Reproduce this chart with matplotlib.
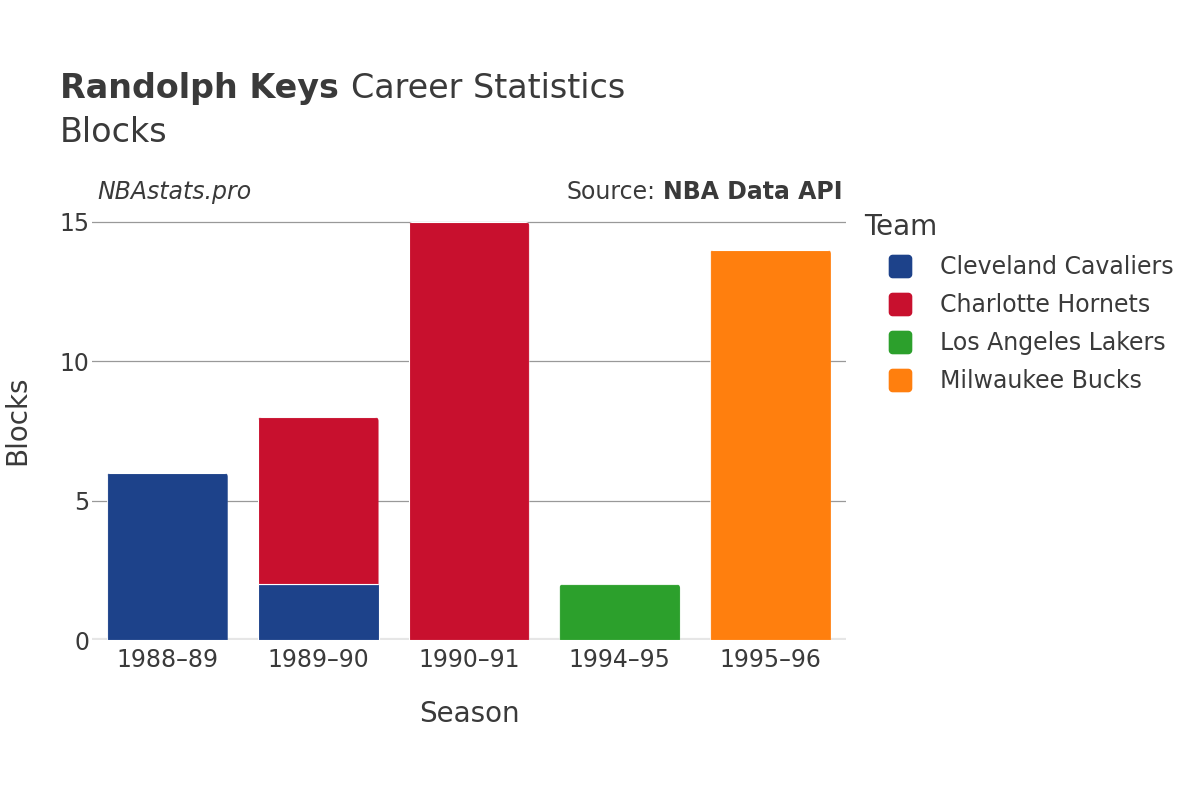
import matplotlib.pyplot as plt
from matplotlib.lines import Line2D
from matplotlib.path import Path
from matplotlib.patches import FancyBboxPatch
import numpy as np

# data
seasons = ['1988\u201389', '1989\u201390', '1990\u201391', '1994\u201395', '1995\u201396']
teams = ['Cleveland Cavaliers', 'Charlotte Hornets', 'Los Angeles Lakers', 'Milwaukee Bucks']
team_colors = ['#1d428a', '#c8102e', '#2ca02c', '#ff7f0e']
blocks = {
    'Cleveland Cavaliers': [6, 2, 0, 0, 0],
    'Charlotte Hornets': [0, 6, 15, 0, 0],
    'Los Angeles Lakers': [0, 0, 0, 2, 0],
    'Milwaukee Bucks': [0, 0, 0, 0, 14],
}

ctxt = '#3a3a3a'


def rounded_square(r=0.3, n=8):
    # unit square marker with rounded corners
    pts = []
    for cx, cy, a0 in [(1 - r, 1 - r, 0), (-1 + r, 1 - r, 90),
                       (-1 + r, -1 + r, 180), (1 - r, -1 + r, 270)]:
        for a in np.linspace(a0, a0 + 90, n):
            t = np.radians(a)
            pts.append((cx + r * np.cos(t), cy + r * np.sin(t)))
    pts.append(pts[0])
    return Path(pts, closed=True)


fig = plt.figure(figsize=(12, 8), dpi=100)
ax = fig.add_axes([0.0767, 0.2, 0.6283, 0.533])
ax.set_xlim(-0.5, len(seasons) - 0.5)
ax.set_ylim(0, 15.3)

x = np.arange(len(seasons))
totals = np.sum([blocks[t] for t in teams], axis=0)
bottom = np.zeros(len(seasons))
for team, col in zip(teams, team_colors):
    vals = np.array(blocks[team], dtype=float)
    mask = vals > 0
    bars = ax.bar(x[mask], vals[mask], 0.8, bottom=bottom[mask], color=col,
                  edgecolor='white', linewidth=0.8, zorder=3)
    # round the top corners of the topmost segment
    for rect, xi in zip(bars, x[mask]):
        y0, h = rect.get_y(), rect.get_height()
        if np.isclose(y0 + h, totals[xi]):
            clip = FancyBboxPatch((rect.get_x(), y0 - 1), rect.get_width(), h + 1,
                                  boxstyle='round,pad=0,rounding_size=0.027',
                                  mutation_aspect=5.4, transform=ax.transData,
                                  facecolor='none', edgecolor='none')
            ax.add_patch(clip)
            rect.set_clip_path(clip)
    bottom += vals

ax.set_yticks([0, 5, 10, 15])
ax.set_xticks(x)
ax.set_xticklabels(seasons)
ax.tick_params(axis='both', length=0, labelsize=17, labelcolor=ctxt)
ax.tick_params(axis='x', pad=6)
ax.tick_params(axis='y', pad=2)
ax.grid(axis='y', color='#999999', linewidth=0.9, zorder=0)
ax.axhline(0, color='#e6e6e6', linewidth=3, zorder=2)
for s in ax.spines.values():
    s.set_visible(False)

ax.set_xlabel('Season', fontsize=20, color=ctxt, labelpad=20)
ax.set_ylabel('Blocks', fontsize=20, color=ctxt, va='center')
ax.yaxis.set_label_coords(-0.0995, 0.515)

# titles
fig.canvas.draw()
r = fig.canvas.get_renderer()
t1 = fig.text(0.05, 0.889, 'Randolph Keys', fontsize=24, fontweight='bold', color=ctxt, va='center')
w = t1.get_window_extent(r).width / fig.bbox.width
fig.text(0.05 + w + 0.01, 0.889, 'Career Statistics', fontsize=24, color=ctxt, va='center')
fig.text(0.05, 0.834, 'Blocks', fontsize=24, color=ctxt, va='center')

fig.text(0.081, 0.76, 'NBAstats.pro', fontsize=17, style='italic', color=ctxt, va='center')
s2 = fig.text(0.702, 0.76, 'NBA Data API', fontsize=17, fontweight='bold', color=ctxt,
              va='center', ha='right')
w2 = s2.get_window_extent(r).width / fig.bbox.width
fig.text(0.702 - w2 - 0.006, 0.76, 'Source:', fontsize=17, color=ctxt, va='center', ha='right')

# legend
marker = rounded_square()
handles = [Line2D([0], [0], marker=marker, linestyle='', markersize=16,
                  markerfacecolor=c, markeredgecolor=c) for c in team_colors]
leg = fig.legend(handles, teams, loc='upper left', bbox_to_anchor=(0.7205, 0.734),
                 frameon=False, fontsize=17, title='Team', title_fontsize=20,
                 labelspacing=0.6, handlelength=3.0, handletextpad=0.2,
                 borderaxespad=0, borderpad=0)
leg._legend_box.align = 'left'
for t in leg.get_texts():
    t.set_color(ctxt)
leg.get_title().set_color(ctxt)

plt.savefig('out.png', dpi=100)
plt.close()
